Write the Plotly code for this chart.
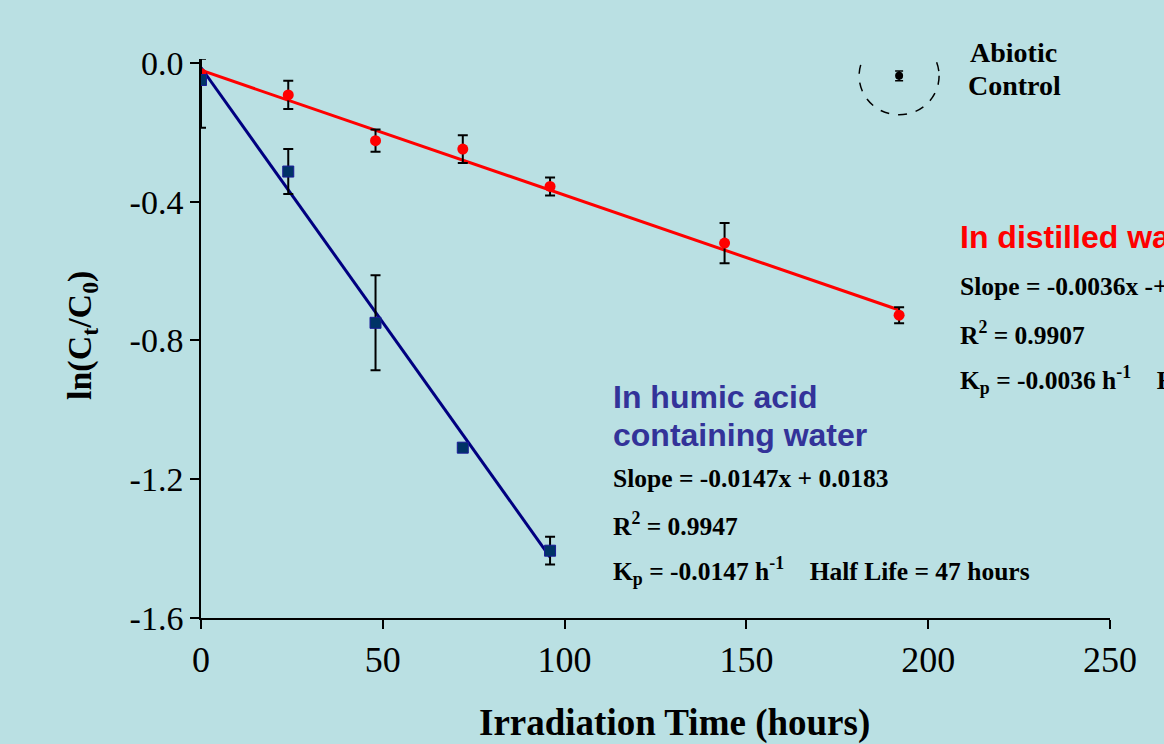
import plotly.graph_objects as go

# ---------------- data ----------------
time_distilled = [0, 24, 48, 72, 96, 144, 192]
ln_distilled = [-0.03, -0.092, -0.224, -0.248, -0.356, -0.519, -0.727]
err_distilled = [0.0, 0.041, 0.032, 0.040, 0.026, 0.058, 0.023]

time_humic = [0, 24, 48, 72, 96]
ln_humic = [-0.049, -0.313, -0.749, -1.109, -1.406]
err_humic_plus = [0.061, 0.065, 0.137, 0.0, 0.040]
err_humic_minus = [0.138, 0.065, 0.137, 0.0, 0.040]

time_abiotic = [192]
ln_abiotic = [-0.037]
err_abiotic = [0.014]

# fitted lines (slope, intercept, x-extent)
fit_distilled = {"slope": -0.0036, "intercept": -0.021, "x": [0, 192]}
fit_humic = {"slope": -0.0147, "intercept": -0.013, "x": [0, 96]}

x_ticks = [0, 50, 100, 150, 200, 250]
y_ticks = [0.0, -0.4, -0.8, -1.2, -1.6]
y_tick_text = ["0.0", "-0.4", "-0.8", "-1.2", "-1.6"]

BG = "#BAE0E3"
RED = "#FF0000"
NAVY = "#000080"
HUMIC_TXT = "#333399"

fig = go.Figure()

def fit_line(f):
    xs = f["x"]
    return xs, [f["slope"] * x + f["intercept"] for x in xs]

fx, fy = fit_line(fit_distilled)
fig.add_trace(go.Scatter(x=fx, y=fy, mode="lines", line=dict(color=RED, width=3),
                         showlegend=False, hoverinfo="skip"))
hx, hy = fit_line(fit_humic)
fig.add_trace(go.Scatter(x=hx, y=hy, mode="lines", line=dict(color=NAVY, width=3),
                         showlegend=False, hoverinfo="skip"))

fig.add_trace(go.Scatter(
    x=time_distilled, y=ln_distilled, mode="markers",
    marker=dict(symbol="circle", size=11, color=RED),
    error_y=dict(type="data", array=err_distilled, color="black", thickness=2, width=5),
    showlegend=False))

fig.add_trace(go.Scatter(
    x=time_humic, y=ln_humic, mode="markers",
    marker=dict(symbol="square", size=11, color="#003366", line=dict(color="#1a1a99", width=1)),
    error_y=dict(type="data", symmetric=False, array=err_humic_plus, arrayminus=err_humic_minus,
                 color="black", thickness=2, width=5),
    showlegend=False))

fig.add_trace(go.Scatter(
    x=time_abiotic, y=ln_abiotic, mode="markers",
    marker=dict(symbol="circle", size=8, color="black"),
    error_y=dict(type="data", array=err_abiotic, color="black", thickness=1.5, width=4),
    showlegend=False))

# dashed circle around abiotic control
fig.add_shape(type="circle", xref="x", yref="y", xsizemode="pixel", ysizemode="pixel",
              xanchor=time_abiotic[0], yanchor=ln_abiotic[0],
              x0=-40, x1=40, y0=-39, y1=39,
              line=dict(color="black", width=1.5, dash="dash"))

# pixel -> paper helpers
L, R, T, B = 201, 1110, 59, 618
def px(x):
    return (x - L) / (R - L)
def py(y):
    return (B - y) / (B - T)

serif = "Liberation Serif, Times New Roman, serif"
sans = "Liberation Sans, Arial, sans-serif"

def ann(x, y, text, size, color="black", family=serif, xanchor="left"):
    fig.add_annotation(xref="paper", yref="paper", x=px(x), y=py(y), text=text,
                       showarrow=False, xanchor=xanchor, yanchor="middle",
                       font=dict(family=family, size=size, color=color))

ann(968, 52, "<b>Abiotic</b>", 28)
ann(966, 86, "<b>Control</b>", 28)

ann(958, 237, "<b>In distilled water</b>", 32, RED, sans)
ann(958, 286, "<b>Slope = -0.0036x -+ 0.0219</b>", 25.5)
ann(958, 333, "<b>R<sup>2</sup> = 0.9907</b>", 25.5)
ann(958, 380, "<b>K<sub>p</sub> = -0.0036 h<sup>-1</sup>    Half Life = 193 hours</b>", 25.5)

ann(611, 397, "<b>In humic acid</b>", 32, HUMIC_TXT, sans)
ann(611, 435, "<b>containing water</b>", 32, HUMIC_TXT, sans)
ann(611, 478, "<b>Slope = -0.0147x + 0.0183</b>", 25.5)
ann(611, 524, "<b>R<sup>2</sup> = 0.9947</b>", 25.5)
ann(611, 571, "<b>K<sub>p</sub> = -0.0147 h<sup>-1</sup>    Half Life = 47 hours</b>", 25.5)

# axis titles
ann(674, 723, "<b>Irradiation Time (hours)</b>", 37, xanchor="center")
fig.add_annotation(xref="paper", yref="paper", x=px(82), y=py(335),
                   text="<b>ln(C<sub>t</sub>/C<sub>0</sub>)</b>", showarrow=False,
                   textangle=-90, xanchor="center", yanchor="middle",
                   font=dict(family=serif, size=34, color="black"))

fig.update_xaxes(range=[0, 250], tickvals=x_ticks, ticks="outside", ticklen=9, tickwidth=1.5,
                 tickcolor="black", showline=True, linecolor="black", linewidth=1.5,
                 showgrid=False, zeroline=False,
                 tickfont=dict(family=serif, size=36, color="black"))
fig.update_yaxes(range=[-1.6, 0.0115], tickvals=y_ticks, ticktext=y_tick_text, ticks="outside",
                 ticklen=9, tickwidth=1.5, tickcolor="black", showline=True, linecolor="black",
                 linewidth=1.5, showgrid=False, zeroline=False,
                 tickfont=dict(family=serif, size=34, color="black"))

fig.update_layout(width=1164, height=744, paper_bgcolor=BG, plot_bgcolor=BG,
                  margin=dict(l=L, r=1164 - R, t=T, b=744 - B), showlegend=False)

fig.write_html("out.html")
